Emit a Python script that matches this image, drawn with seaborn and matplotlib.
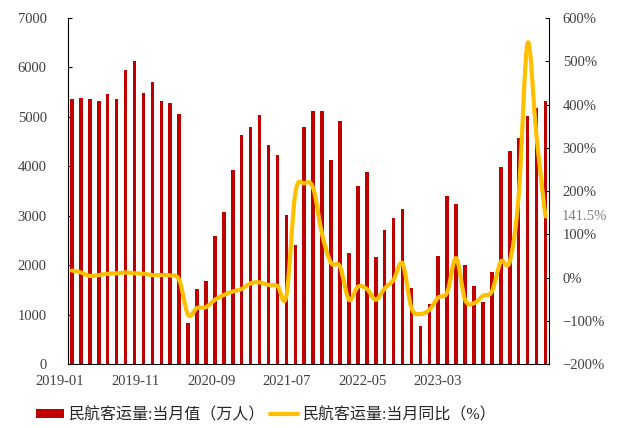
import numpy as np
import pandas as pd
import matplotlib
matplotlib.use("Agg")
import matplotlib.pyplot as plt
import seaborn as sns
from matplotlib.path import Path
from matplotlib.patches import PathPatch, Patch
from matplotlib.lines import Line2D

# ---------------- data ----------------
months = pd.date_range("2019-01-01", periods=54, freq="MS").strftime("%Y-%m").tolist()

volume = [5360, 5384, 5357, 5323, 5458, 5357, 5943, 6132, 5478, 5701, 5323, 5283,
          5061, 836, 1523, 1678, 2594, 3080, 3929, 4629, 4805, 5040, 4441, 4239,
          3026, 2406, 4805, 5115, 5115, 4131, 4926, 2244, 3612, 3888, 2163, 2716,
          2958, 3133, 1550, 782, 1220, 2197, 3403, 3235, 2008, 1590, 1260, 1873,
          3996, 4319, 4582, 5013, 5189, 5323]

yoy = [16.5, 12, 4, 6, 9, 10, 12, 10, 9, 6, 6, 5,
       -5, -86, -70, -68, -51, -40, -32, -26, -13, -11, -17, -19,
       -42, 195, 218, 207, 100, 34, 26, -51, -21, -26, -51, -25,
       -5, 33, -70, -84, -74, -46, -34, 45, -51, -59, -42, -32,
       37, 37, 190, 542, 325, 141.5]

tick_labels = ["2019-01", "2019-11", "2020-09", "2021-07", "2022-05", "2023-03"]
left_ticks = list(range(0, 7001, 1000))
right_ticks = list(range(-200, 601, 100))

series_names = ["民航客运量:当月值（万人）", "民航客运量:当月同比（%）"]

# ---------------- style ----------------
bar_color = "#C00000"
line_color = "#FFC000"
text_color = "#404040"

sns.set_theme(style="white")
plt.rcParams["font.family"] = ["Liberation Serif", "Noto Sans CJK SC"]
plt.rcParams["axes.unicode_minus"] = True

fig = plt.figure(figsize=(6.18, 4.28), dpi=100)
ax = fig.add_axes([0.1095, 0.149, 0.888 - 0.1095, 0.958 - 0.149])

df = pd.DataFrame({"month": months, "volume": volume})
sns.barplot(data=df, x="month", y="volume", color=bar_color, saturation=1,
            width=0.4, errorbar=None, linewidth=0, ax=ax)

n = len(months)
ax.set_xticks([])
ax.set_xlim(-0.48, n - 1 + 0.37)
ax.set_ylim(0, 7000)
ax.set_yticks(left_ticks)
ax.set_yticklabels([str(v) for v in left_ticks])
ax.set_xlabel("")
ax.set_ylabel("")

# date labels (placed like the original, which does not align them to bars)
label_start, label_step = -1.324, 8.458
for i, lab in enumerate(tick_labels):
    ax.annotate(lab, xy=(label_start + i * label_step, 0),
                xycoords=("data", "axes fraction"), xytext=(0, -7.5),
                textcoords="offset points", ha="center", va="top",
                fontsize=10.5, color=text_color, annotation_clip=False)

ax.tick_params(axis="y", direction="in", length=3, width=0.8, pad=15,
               labelsize=10.5, labelcolor=text_color, color="black", left=True)

for s in ["left", "bottom"]:
    ax.spines[s].set_color("black")
    ax.spines[s].set_linewidth(0.8)
ax.spines["top"].set_visible(False)
ax.spines["right"].set_visible(False)

# ---------------- twin axis, smoothed line ----------------
ax2 = ax.twinx()
pts = np.column_stack([np.arange(n, dtype=float), np.asarray(yoy, dtype=float)])
verts = [pts[0]]
codes = [Path.MOVETO]
for i in range(n - 1):
    p0 = pts[i - 1] if i > 0 else pts[i]
    p1 = pts[i]
    p2 = pts[i + 1]
    p3 = pts[i + 2] if i + 2 < n else pts[i + 1]
    c1 = p1 + (p2 - p0) / 6.0
    c2 = p2 - (p3 - p1) / 6.0
    verts += [c1, c2, p2]
    codes += [Path.CURVE4] * 3
patch = PathPatch(Path(verts, codes), facecolor="none", edgecolor=line_color,
                  lw=3.0, capstyle="round", joinstyle="round")
ax2.add_patch(patch)
ax2.set_xlim(ax.get_xlim())
ax2.set_ylim(-200, 600)
ax2.set_yticks(right_ticks)
ax2.set_yticklabels([f"{v}%".replace("-", "\u2212") for v in right_ticks])
ax2.tick_params(axis="y", direction="in", length=3, width=0.8, pad=10,
                labelsize=10.5, labelcolor=text_color, color="black", right=True)
for s in ["left", "top", "bottom"]:
    ax2.spines[s].set_visible(False)
ax2.spines["right"].set_color("black")
ax2.spines["right"].set_linewidth(0.8)
ax2.grid(False)
ax.grid(False)

ax2.annotate(f"{yoy[-1]:.1f}%", xy=(n - 1, yoy[-1]), xytext=(11.5, 0),
             textcoords="offset points", ha="left", va="center",
             color="#7f7f7f", fontsize=10.5, annotation_clip=False)

# ---------------- legend ----------------
handles = [Patch(facecolor=bar_color, edgecolor="none"),
           Line2D([], [], color=line_color, lw=3)]
fig.legend(handles, series_names, loc="center left",
           bbox_to_anchor=(0.058, 0.030), frameon=False, ncol=2,
           fontsize=11.5, handlelength=1.75, handleheight=0.5,
           handletextpad=0.3, columnspacing=0.3, borderpad=0,
           borderaxespad=0, labelcolor="#262626")

fig.savefig("out.png", dpi=100)
